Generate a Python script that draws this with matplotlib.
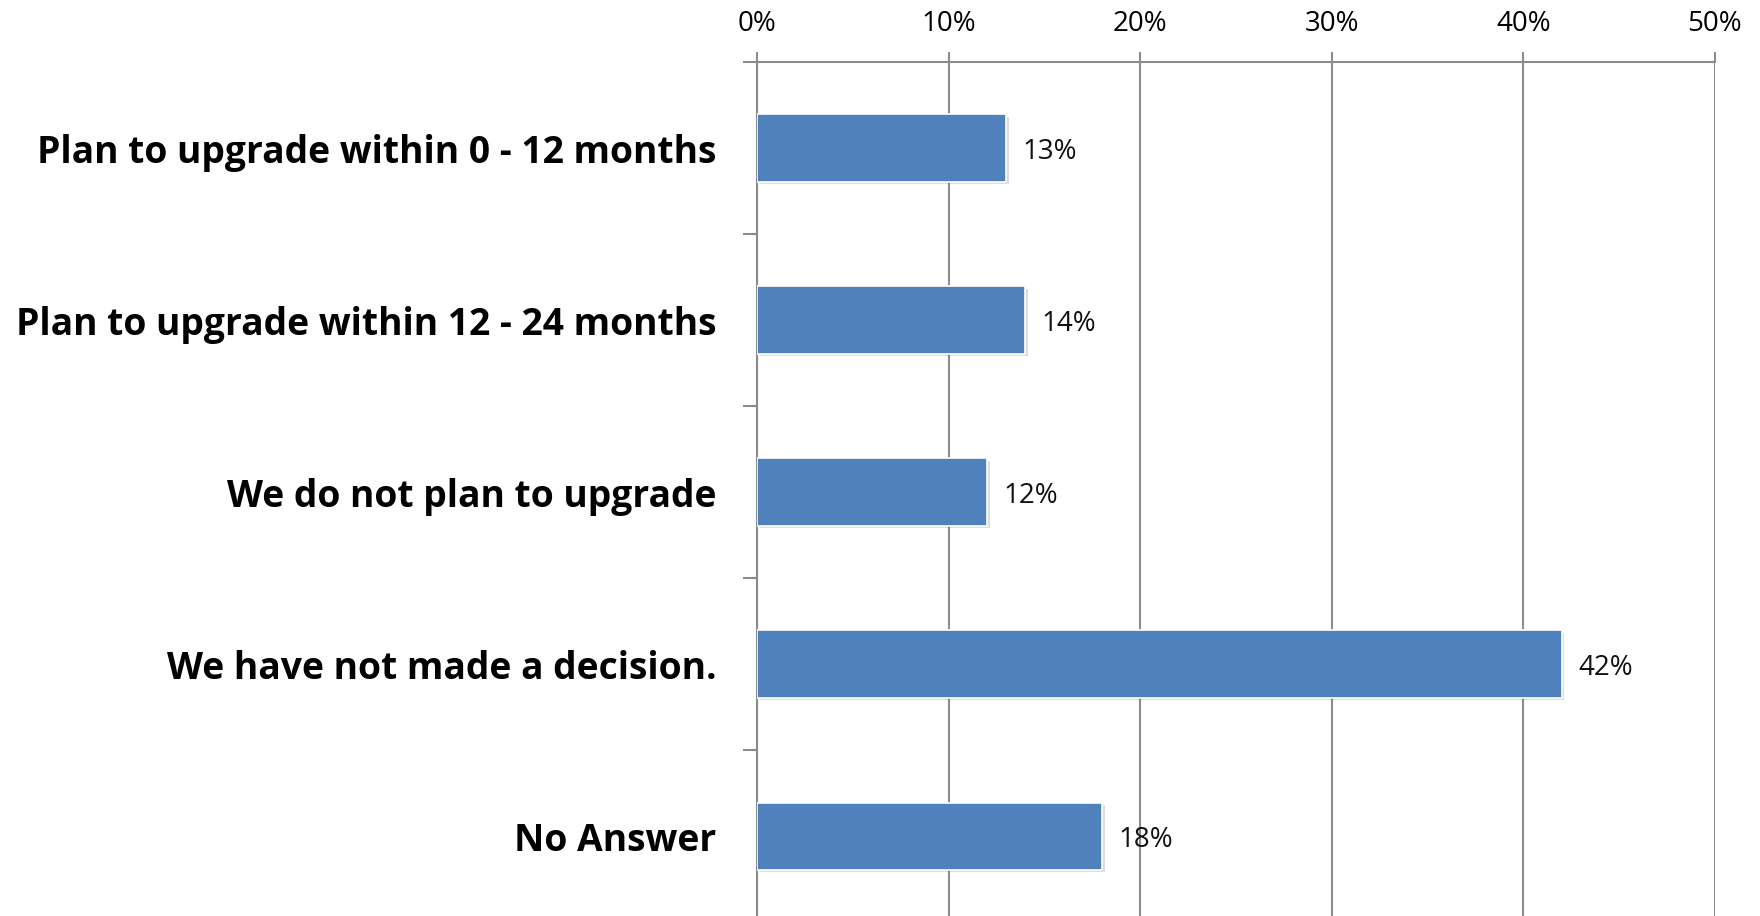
import matplotlib
matplotlib.use("Agg")
import matplotlib.pyplot as plt
import matplotlib.patheffects as pe
from matplotlib.ticker import FixedLocator

plt.rcParams['font.family'] = ['Open Sans', 'DejaVu Sans']

categories = [
    "Plan to upgrade within 0 - 12 months",
    "Plan to upgrade within 12 - 24 months",
    "We do not plan to upgrade",
    "We have not made a decision.",
    "No Answer",
]
values = [13, 14, 12, 42, 18]
xticks = [0, 10, 20, 30, 40, 50]

grid_col = "#8c8c8c"
bar_col = "#4f81bd"

fig = plt.figure(figsize=(17.6, 9.16), dpi=100)
ax = fig.add_axes([0.4301, -0.0066, 0.5443, 0.9389])

ypos = list(range(len(categories)))
bars = ax.barh(ypos, values, height=0.39, color=bar_col, edgecolor="#ffffff",
               linewidth=1.2, zorder=3)
for b in bars:
    b.set_path_effects([pe.SimplePatchShadow(offset=(2, -2), alpha=0.2,
                                             shadow_rgbFace="#555555"),
                        pe.Normal()])

for y, v in zip(ypos, values):
    ax.annotate(f"{v}%", (v, y), xytext=(12, 0), textcoords="offset points",
                va="center_baseline", ha="left", fontsize=20, color="#111111")

ax.set_xlim(0, 50)
ax.set_ylim(len(categories) - 0.5, -0.5)

ax.xaxis.tick_top()
ax.set_xticks(xticks)
ax.set_xticklabels([f"{t}%" for t in xticks], fontsize=20)
ax.tick_params(axis="x", which="major", length=7, width=1.5, color=grid_col,
               pad=10)
ax.grid(axis="x", color=grid_col, linewidth=1.5, zorder=0)

ax.set_yticks(ypos)
ax.set_yticklabels(categories, fontsize=26.8, fontweight="bold",
                   va="center_baseline")
ax.tick_params(axis="y", which="major", length=0, pad=29)
ax.yaxis.set_minor_locator(FixedLocator([i - 0.5 for i in range(len(categories) + 1)]))
ax.tick_params(axis="y", which="minor", length=10, width=1.5, color=grid_col)

for s in ["right", "bottom"]:
    ax.spines[s].set_visible(False)
for s in ["top", "left"]:
    ax.spines[s].set_color(grid_col)
    ax.spines[s].set_linewidth(1.5)

fig.savefig("out.png", dpi=100)
